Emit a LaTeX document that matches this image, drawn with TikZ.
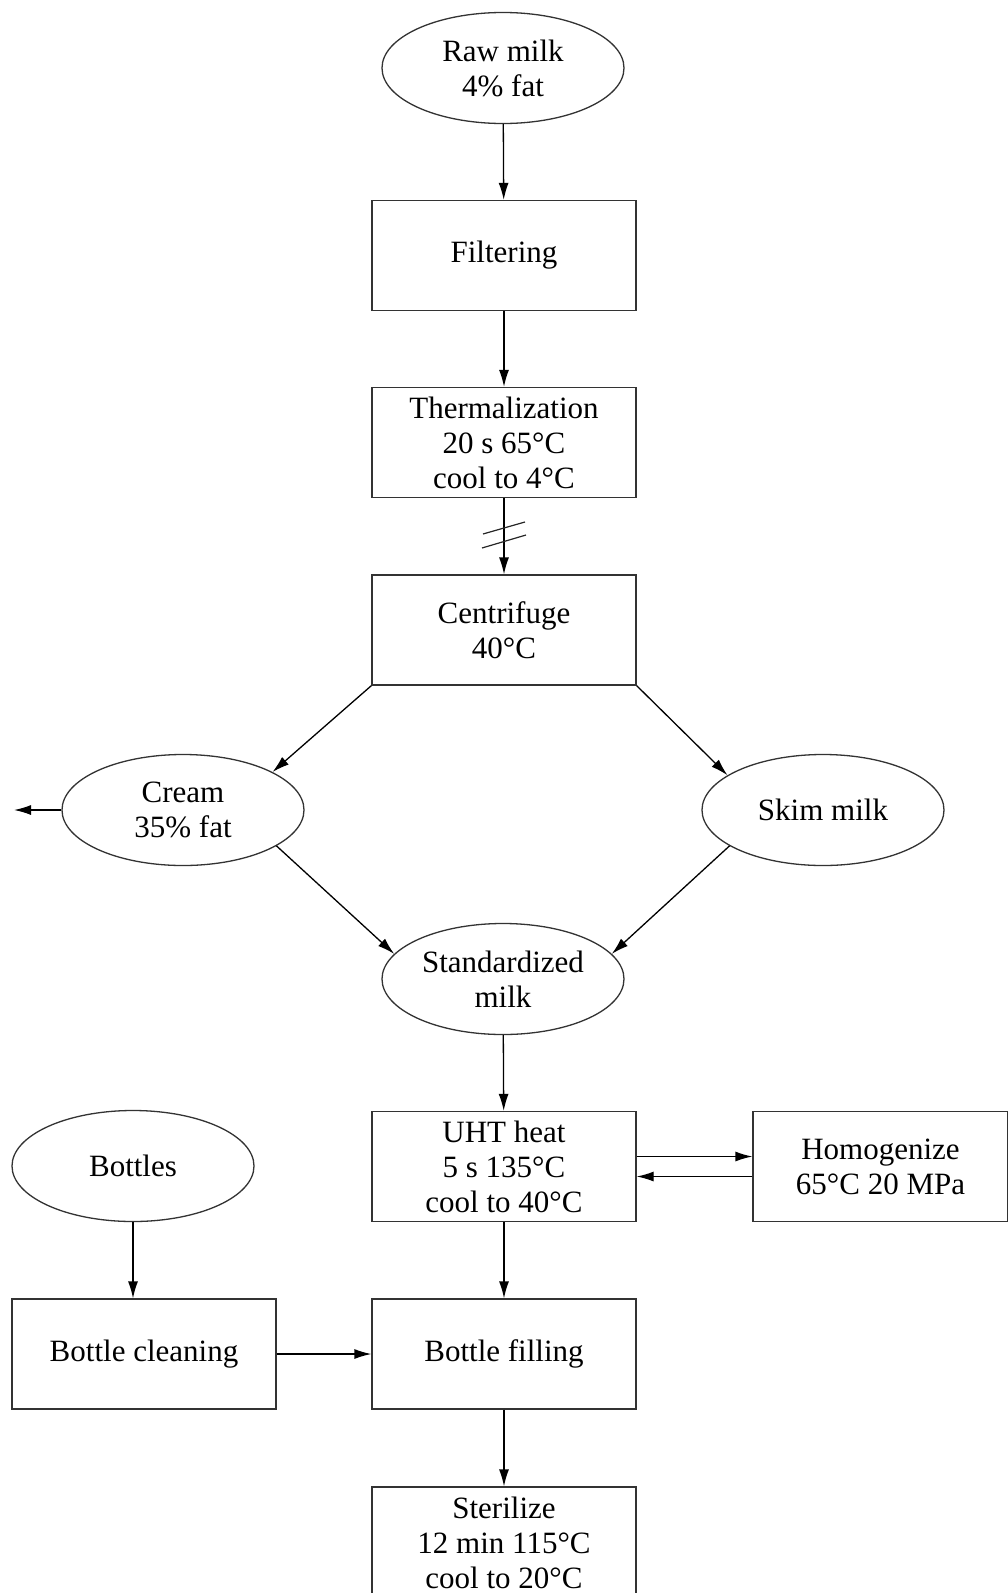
\documentclass[tikz,border=0pt]{standalone}
\usepackage{fontspec}
\setmainfont{Liberation Serif}
\usetikzlibrary{shapes.geometric,arrows.meta}
\begin{document}
\begin{tikzpicture}[x=1pt,y=-1pt,
  every node/.style={font=\fontsize{31}{35}\selectfont, align=center, draw=black!80, line width=1.3pt, inner sep=0pt},
  oval/.style={ellipse, minimum width=242, minimum height=111},
  box/.style={rectangle, minimum width=264, minimum height=110},
  arr/.style={line width=1.3pt, -{Latex[length=17pt,width=10pt]}},
  slash/.style={line width=1.2pt, draw=black!85}]
\useasboundingbox (0,0) rectangle (1008,1593);
\node[oval] (raw) at (503,68) {Raw milk\\4\% fat};
\node[box] (filt) at (504,255.5) {Filtering};
\node[box] (therm) at (504,442.5) {Thermalization\\20 s 65°C\\cool to 4°C};
\node[box] (cent) at (504,630) {Centrifuge\\40°C};
\node[oval] (cream) at (183,810) {Cream\\35\% fat};
\node[oval] (skim) at (823,810) {Skim milk};
\node[oval] (std) at (503,979) {Standardized\\milk};
\node[box] (uht) at (504,1166.5) {UHT heat\\5 s 135°C\\cool to 40°C};
\node[box, minimum width=255] (hom) at (880.5,1166.5) {Homogenize\\65°C 20 MPa};
\node[oval] (bot) at (133,1166) {Bottles};
\node[box] (clean) at (144,1354) {Bottle cleaning};
\node[box] (fill) at (504,1354) {Bottle filling};
\node[box, minimum height=111] (ster) at (504,1542.5) {Sterilize\\12 min 115°C\\cool to 20°C};
\coordinate (out) at (14,810);

\draw[arr] (raw) -- (filt);
\draw[arr] (filt) -- (therm);
\draw[arr] (therm) -- (cent);
\draw[slash] (483,534) -- (525,522);
\draw[slash] (482,548) -- (526,535);
\draw[arr] (cent.south west) -- (cream.23);
\draw[arr] (cent.south east) -- (skim.160);
\draw[arr] (cream.west) -- (out);
\draw[arr] (cream.-21) -- (std.167);
\draw[arr] (skim.201) -- (std.13);
\draw[arr] (std) -- (uht);
\draw[arr] ([yshift=10pt]uht.east) -- ([yshift=10pt]hom.west);
\draw[arr] ([yshift=-10pt]hom.west) -- ([yshift=-10pt]uht.east);
\draw[arr] (uht) -- (fill);
\draw[arr] (bot.south) -- (bot.south |- clean.north);
\draw[arr] (clean) -- (fill);
\draw[arr] (fill) -- (ster);
\end{tikzpicture}
\end{document}
